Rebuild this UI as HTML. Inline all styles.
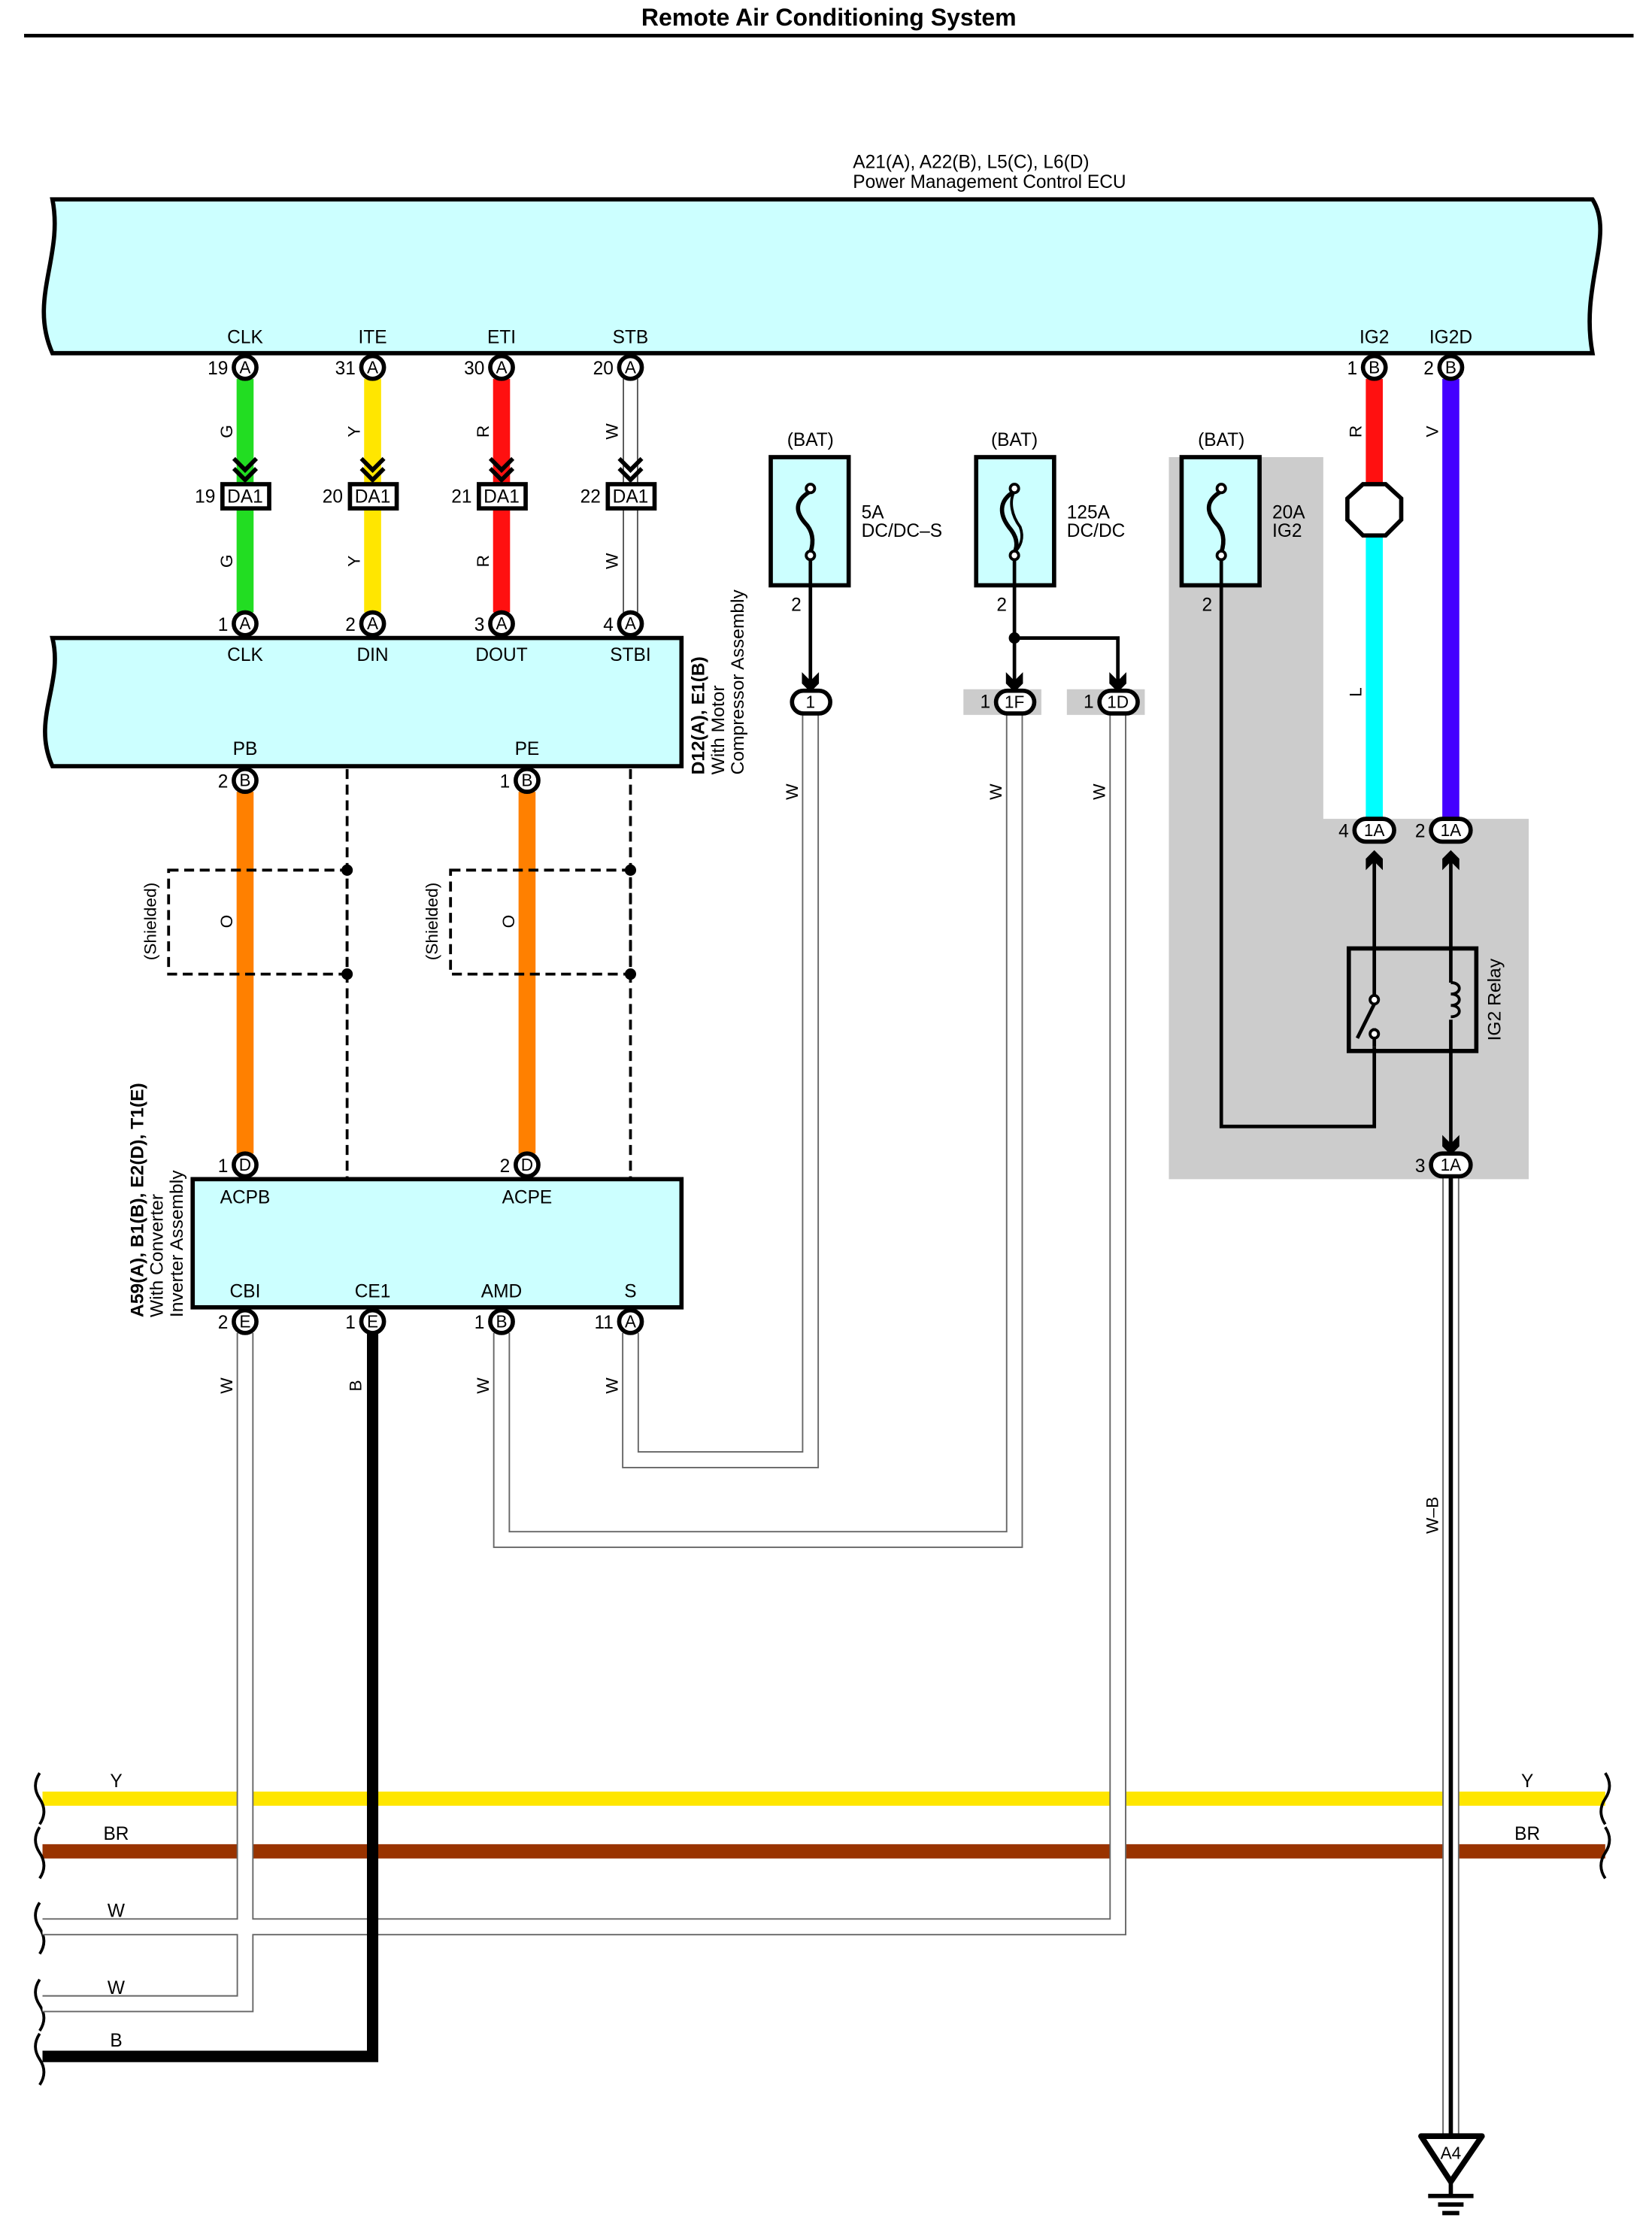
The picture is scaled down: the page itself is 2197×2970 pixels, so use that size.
<!DOCTYPE html>
<html><head><meta charset="utf-8"><style>html,body{margin:0;padding:0;background:#fff}svg{display:block}text{font-family:"Liberation Sans",Arial,sans-serif;fill:#000}</style></head><body>
<svg width="2197" height="2970" viewBox="0 0 1166 1568" preserveAspectRatio="none" xmlns="http://www.w3.org/2000/svg">
<defs>
<g id="chev"><path d="M-8,-14 L0,-6 L8,-14 M-8,-7 L0,1 L8,-7" fill="none" stroke="#000" stroke-width="3"/></g>
<g id="arr"><path d="M-6,-12 L0,-6 L6,-12 L6,-4 L0,2 L-6,-4Z" fill="#000"/></g>
</defs>
<text x="585" y="18" font-size="17" font-weight="bold" text-anchor="middle">Remote Air Conditioning System</text>
<line x1="17" y1="25" x2="1153" y2="25" stroke="#000" stroke-width="2.5"/>

<path d="M825,321 H934 V575 H1079 V828 H825Z" fill="#cccccc"/>
<rect x="680" y="484" width="55" height="18" fill="#cccccc"/>
<rect x="753" y="484" width="55" height="18" fill="#cccccc"/>

<text x="602" y="118" font-size="13">A21(A), A22(B), L5(C), L6(D)</text>
<text x="602" y="132" font-size="13">Power Management Control ECU</text>
<path d="M37,140 H1124 C1140,165 1115,200 1124,248 H37 C20,210 45,180 37,140Z" fill="#ccffff" stroke="#000" stroke-width="3"/>
<g font-size="13" text-anchor="middle">
<text x="173" y="241">CLK</text><text x="263" y="241">ITE</text><text x="354" y="241">ETI</text><text x="445" y="241">STB</text><text x="970" y="241">IG2</text><text x="1024" y="241">IG2D</text>
</g>

<line x1="173" y1="266" x2="173" y2="430" stroke="#22dd22" stroke-width="12"/>
<line x1="263" y1="266" x2="263" y2="430" stroke="#ffe600" stroke-width="12"/>
<line x1="354" y1="266" x2="354" y2="430" stroke="#ff1010" stroke-width="12"/>
<line x1="445" y1="266" x2="445" y2="430" stroke="#555" stroke-width="11"/>
<line x1="445" y1="266" x2="445" y2="430" stroke="#fff" stroke-width="9"/>
<g font-size="12" text-anchor="middle">
<text transform="translate(164,303) rotate(-90)">G</text><text transform="translate(254,303) rotate(-90)">Y</text><text transform="translate(345,303) rotate(-90)">R</text><text transform="translate(436,303) rotate(-90)">W</text>
<text transform="translate(164,394) rotate(-90)">G</text><text transform="translate(254,394) rotate(-90)">Y</text><text transform="translate(345,394) rotate(-90)">R</text><text transform="translate(436,394) rotate(-90)">W</text>
</g>
<g>
<use href="#chev" x="173" y="336"/><use href="#chev" x="263" y="336"/><use href="#chev" x="354" y="336"/><use href="#chev" x="445" y="336"/>
</g>
<g fill="#fff" stroke="#000" stroke-width="3">
<rect x="157" y="340" width="33" height="17"/><rect x="247" y="340" width="33" height="17"/><rect x="338" y="340" width="33" height="17"/><rect x="429" y="340" width="33" height="17"/>
</g>
<g font-size="13" text-anchor="middle">
<text x="173" y="353">DA1</text><text x="263" y="353">DA1</text><text x="354" y="353">DA1</text><text x="445" y="353">DA1</text>
</g>
<g font-size="13" text-anchor="end">
<text x="152" y="353">19</text><text x="242" y="353">20</text><text x="333" y="353">21</text><text x="424" y="353">22</text>
</g>

<path d="M37,448 H481 V538 H37 C22,505 45,480 37,448Z" fill="#ccffff" stroke="#000" stroke-width="3"/>
<g font-size="13" text-anchor="middle">
<text x="173" y="464">CLK</text><text x="263" y="464">DIN</text><text x="354" y="464">DOUT</text><text x="445" y="464">STBI</text>
<text x="173" y="530">PB</text><text x="372" y="530">PE</text>
</g>
<g font-size="13">
<text transform="translate(497,544) rotate(-90)" font-weight="bold">D12(A), E1(B)</text>
<text transform="translate(511,544) rotate(-90)">With Motor</text>
<text transform="translate(525,544) rotate(-90)">Compressor Assembly</text>
</g>

<line x1="173" y1="556" x2="173" y2="810" stroke="#ff8000" stroke-width="12"/>
<line x1="372" y1="556" x2="372" y2="810" stroke="#ff8000" stroke-width="12"/>
<g stroke="#000" stroke-width="2" stroke-dasharray="7,4" fill="none">
<line x1="245" y1="540" x2="245" y2="828"/><line x1="445" y1="540" x2="445" y2="828"/>
<rect x="119" y="611" width="126" height="73"/><rect x="318" y="611" width="127" height="73"/>
</g>
<g fill="#000"><circle cx="245" cy="611" r="4"/><circle cx="245" cy="684" r="4"/><circle cx="445" cy="611" r="4"/><circle cx="445" cy="684" r="4"/></g>
<g font-size="12" text-anchor="middle">
<text transform="translate(110,647) rotate(-90)">(Shielded)</text><text transform="translate(309,647) rotate(-90)">(Shielded)</text>
<text transform="translate(164,647) rotate(-90)">O</text><text transform="translate(363,647) rotate(-90)">O</text>
</g>

<rect x="136" y="828" width="345" height="90" fill="#ccffff" stroke="#000" stroke-width="3"/>
<g font-size="13" text-anchor="middle">
<text x="173" y="845">ACPB</text><text x="372" y="845">ACPE</text>
<text x="173" y="911">CBI</text><text x="263" y="911">CE1</text><text x="354" y="911">AMD</text><text x="445" y="911">S</text>
</g>
<g font-size="13">
<text transform="translate(101,925) rotate(-90)" font-weight="bold">A59(A), B1(B), E2(D), T1(E)</text>
<text transform="translate(115,925) rotate(-90)">With Converter</text>
<text transform="translate(129,925) rotate(-90)">Inverter Assembly</text>
</g>

<path d="M30,1263 H1133" stroke="#ffe600" stroke-width="10"/>
<path d="M30,1300 H1133" stroke="#993300" stroke-width="10"/>
<g fill="none" stroke="#000" stroke-width="2">
<path d="M28,1245 q-6,9 0,18 q6,9 0,18"/><path d="M28,1283 q-6,9 0,18 q6,9 0,18"/>
<path d="M1133,1245 q6,9 0,18 q-6,9 0,18"/><path d="M1133,1283 q6,9 0,18 q-6,9 0,18"/>
<path d="M28,1336 q-6,9 0,18 q6,9 0,18"/><path d="M28,1390 q-6,9 0,18 q6,9 0,18"/><path d="M28,1428 q-6,9 0,18 q6,9 0,18"/>
</g>
<g font-size="13" text-anchor="middle">
<text x="82" y="1255">Y</text><text x="82" y="1292">BR</text><text x="82" y="1346">W</text><text x="82" y="1400">W</text><text x="82" y="1437">B</text>
<text x="1078" y="1255">Y</text><text x="1078" y="1292">BR</text>
</g>

<g fill="none" stroke="#666" stroke-width="12">
<path d="M173,936 V1407 H30"/>
<path d="M354,936 V1081 H716 V500"/>
<path d="M445,936 V1025 H572 V500"/>
<path d="M789,500 V1353 H30"/>
<path d="M1024,826 V1500"/>
</g>
<g fill="none" stroke="#fff" stroke-width="10">
<path d="M173,936 V1407 H30"/>
<path d="M354,936 V1081 H716 V500"/>
<path d="M445,936 V1025 H572 V500"/>
<path d="M789,500 V1353 H30"/>
<path d="M1024,826 V1500"/>
</g>
<line x1="1024" y1="826" x2="1024" y2="1500" stroke="#000" stroke-width="3"/>
<path d="M263,936 V1444 H30" fill="none" stroke="#000" stroke-width="8"/>
<g font-size="12" text-anchor="middle">
<text transform="translate(164,973) rotate(-90)">W</text><text transform="translate(255,973) rotate(-90)">B</text><text transform="translate(345,973) rotate(-90)">W</text><text transform="translate(436,973) rotate(-90)">W</text>
<text transform="translate(563,556) rotate(-90)">W</text><text transform="translate(707,556) rotate(-90)">W</text><text transform="translate(780,556) rotate(-90)">W</text>
<text transform="translate(1015,1064) rotate(-90)">W–B</text>
</g>

<g font-size="13" text-anchor="middle"><text x="572" y="313">(BAT)</text><text x="716" y="313">(BAT)</text><text x="862" y="313">(BAT)</text></g>
<rect x="544" y="321" width="55" height="90" fill="#ccffff" stroke="#000" stroke-width="3"/>
<rect x="689" y="321" width="55" height="90" fill="#ccffff" stroke="#000" stroke-width="3"/>
<rect x="834" y="321" width="55" height="90" fill="#ccffff" stroke="#000" stroke-width="3"/>
<g fill="none" stroke="#000" stroke-width="3">
<path d="M572,345 C560,352 562,360 568,367 C575,374 574,382 572,388"/>
<path d="M862,345 C850,352 852,360 858,367 C865,374 864,382 862,388"/>
<path d="M716,345 C704,352 706,362 712,370 C719,378 718,384 716,388"/>
<path d="M716,345 C712,352 714,362 720,370 C723,378 720,384 716,388" stroke-width="2"/>
</g>
<g fill="#fff" stroke="#000" stroke-width="2"><circle cx="572" cy="343" r="3"/><circle cx="572" cy="390" r="3"/><circle cx="716" cy="343" r="3"/><circle cx="716" cy="390" r="3"/><circle cx="862" cy="343" r="3"/><circle cx="862" cy="390" r="3"/></g>
<g font-size="13"><text x="608" y="364">5A</text><text x="608" y="377">DC/DC–S</text><text x="753" y="364">125A</text><text x="753" y="377">DC/DC</text><text x="898" y="364">20A</text><text x="898" y="377">IG2</text></g>
<g font-size="13" text-anchor="middle"><text x="562" y="429">2</text><text x="707" y="429">2</text><text x="852" y="429">2</text></g>
<g fill="none" stroke="#000" stroke-width="2.5">
<path d="M572,393 V485"/><path d="M716,393 V485"/><path d="M716,448 H789 V485"/>
<path d="M862,393 V791 H970 V735"/>
</g>
<circle cx="716" cy="448" r="4" fill="#000"/>
<use href="#arr" x="572" y="484"/><use href="#arr" x="716" y="484"/><use href="#arr" x="789" y="484"/>

<line x1="970" y1="266" x2="970" y2="342" stroke="#ff1010" stroke-width="12"/>
<line x1="970" y1="374" x2="970" y2="575" stroke="#00ffff" stroke-width="12"/>
<line x1="1024" y1="266" x2="1024" y2="575" stroke="#4400ff" stroke-width="12"/>
<polygon points="962,340 978,340 989,350 989,365 978,376 962,376 951,365 951,350" fill="#fff" stroke="#000" stroke-width="3"/>
<g font-size="12" text-anchor="middle">
<text transform="translate(961,303) rotate(-90)">R</text><text transform="translate(1015,303) rotate(-90)">V</text><text transform="translate(961,486) rotate(-90)">L</text>
</g>
<g fill="none" stroke="#000" stroke-width="2.5">
<path d="M970,600 V702"/><path d="M970,722 V735"/><path d="M1024,600 V690"/><path d="M1024,716 V810"/>
<line x1="958" y1="729" x2="970" y2="705"/>
<path d="M1024,690 c8,0 8,8 0,8 c8,0 8,8 0,8 c8,0 8,8 0,8" stroke-width="2"/>
</g>
<rect x="952" y="666" width="90" height="72" fill="none" stroke="#000" stroke-width="3"/>
<g fill="#fff" stroke="#000" stroke-width="2"><circle cx="970" cy="702" r="3"/><circle cx="970" cy="726" r="3"/></g>
<text transform="translate(1059,702) rotate(-90)" font-size="13" text-anchor="middle">IG2 Relay</text>
<use href="#arr" x="1024" y="809"/>
<g transform="translate(970,599) scale(1,-1)"><use href="#arr"/></g>
<g transform="translate(1024,599) scale(1,-1)"><use href="#arr"/></g>

<g fill="#fff" stroke="#000" stroke-width="3">
<circle cx="173" cy="258" r="8"/><circle cx="263" cy="258" r="8"/><circle cx="354" cy="258" r="8"/><circle cx="445" cy="258" r="8"/><circle cx="970" cy="258" r="8"/><circle cx="1024" cy="258" r="8"/>
<circle cx="173" cy="438" r="8"/><circle cx="263" cy="438" r="8"/><circle cx="354" cy="438" r="8"/><circle cx="445" cy="438" r="8"/>
<circle cx="173" cy="548" r="8"/><circle cx="372" cy="548" r="8"/>
<circle cx="173" cy="818" r="8"/><circle cx="372" cy="818" r="8"/>
<circle cx="173" cy="928" r="8"/><circle cx="263" cy="928" r="8"/><circle cx="354" cy="928" r="8"/><circle cx="445" cy="928" r="8"/>
<rect x="559" y="485" width="27" height="16" rx="8"/>
<rect x="703" y="485" width="27" height="16" rx="8"/>
<rect x="776" y="485" width="27" height="16" rx="8"/>
<rect x="956" y="575" width="28" height="16" rx="8"/>
<rect x="1010" y="575" width="28" height="16" rx="8"/>
<rect x="1010" y="810" width="28" height="16" rx="8"/>
</g>
<g font-size="12" text-anchor="middle">
<text x="173" y="262">A</text><text x="263" y="262">A</text><text x="354" y="262">A</text><text x="445" y="262">A</text><text x="970" y="262">B</text><text x="1024" y="262">B</text>
<text x="173" y="442">A</text><text x="263" y="442">A</text><text x="354" y="442">A</text><text x="445" y="442">A</text>
<text x="173" y="552">B</text><text x="372" y="552">B</text>
<text x="173" y="822">D</text><text x="372" y="822">D</text>
<text x="173" y="932">E</text><text x="263" y="932">E</text><text x="354" y="932">B</text><text x="445" y="932">A</text>
<text x="572" y="497">1</text><text x="716" y="497">1F</text><text x="789" y="497">1D</text>
<text x="970" y="587">1A</text><text x="1024" y="587">1A</text><text x="1024" y="822">1A</text>
</g>
<g font-size="13" text-anchor="end">
<text x="161" y="263">19</text><text x="251" y="263">31</text><text x="342" y="263">30</text><text x="433" y="263">20</text><text x="958" y="263">1</text><text x="1012" y="263">2</text>
<text x="161" y="443">1</text><text x="251" y="443">2</text><text x="342" y="443">3</text><text x="433" y="443">4</text>
<text x="161" y="553">2</text><text x="360" y="553">1</text>
<text x="161" y="823">1</text><text x="360" y="823">2</text>
<text x="161" y="933">2</text><text x="251" y="933">1</text><text x="342" y="933">1</text><text x="433" y="933">11</text>
<text x="699" y="497">1</text><text x="772" y="497">1</text>
<text x="952" y="588">4</text><text x="1006" y="588">2</text><text x="1006" y="823">3</text>
</g>

<polygon points="1003,1500 1046,1500 1024,1532" fill="#fff" stroke="#000" stroke-width="4" stroke-linejoin="round"/>
<text x="1024" y="1516" font-size="12" text-anchor="middle">A4</text>
<g stroke="#000" stroke-width="3"><line x1="1024" y1="1532" x2="1024" y2="1542"/><line x1="1008" y1="1542" x2="1040" y2="1542"/><line x1="1015" y1="1548" x2="1033" y2="1548"/><line x1="1018" y1="1554" x2="1030" y2="1554"/></g>
</svg>
</body></html>
